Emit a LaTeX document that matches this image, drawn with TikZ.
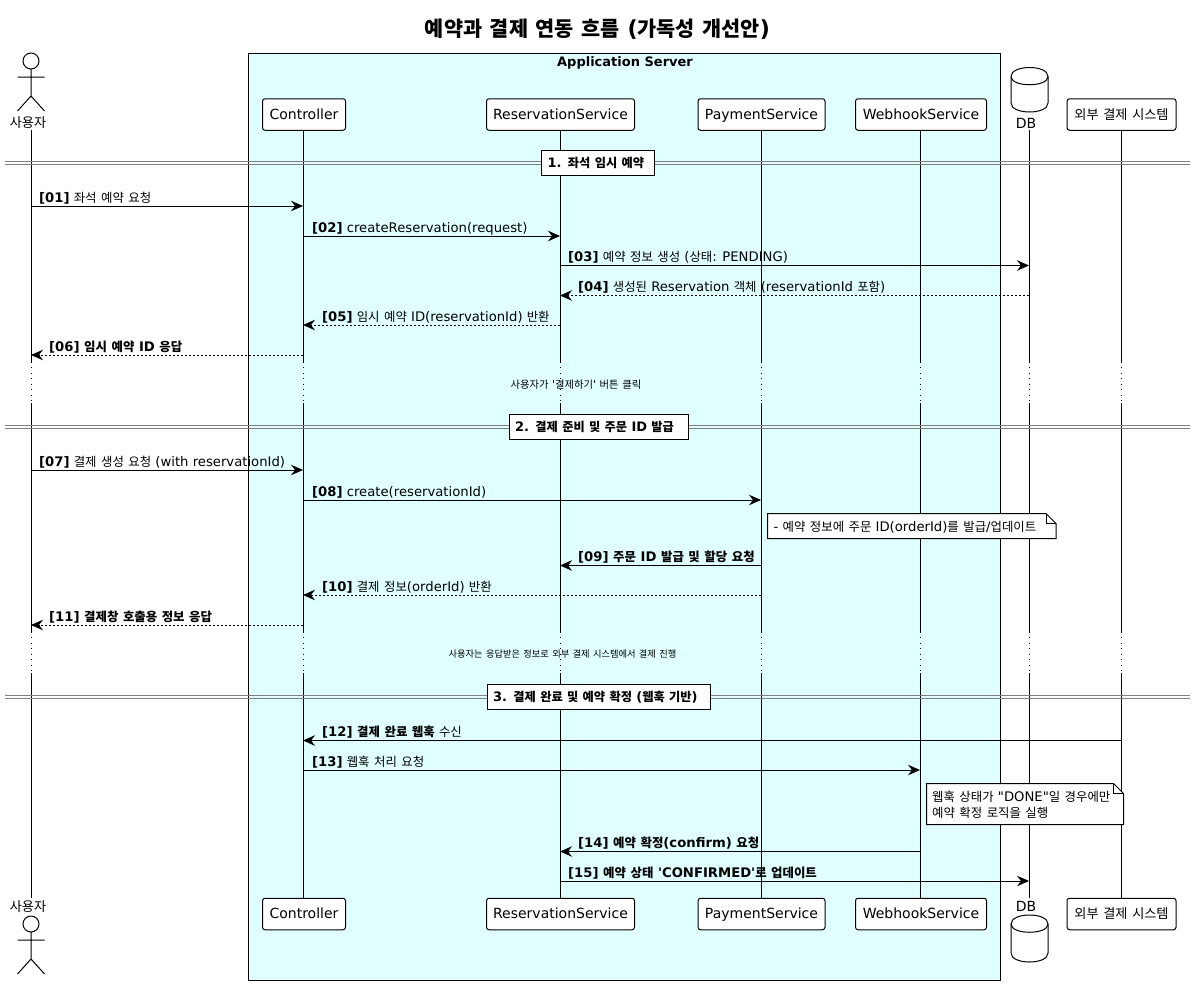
\documentclass[tikz,border=0pt]{standalone}
\usepackage{fontspec}
\setmainfont[Ligatures=TeXOff]{DejaVu Sans}
\newfontfamily\cjk[Scale=0.94,WordSpace=1.6]{Noto Sans CJK KR}
\usetikzlibrary{arrows.meta,shapes.geometric}
\newcommand\K[1]{{\cjk #1}}
\newcommand\fs[1]{\fontsize{#1}{#1}\selectfont}
\definecolor{boxcyan}{HTML}{E0FFFF}
\definecolor{divgray}{HTML}{808080}
\tikzset{
  part/.style={draw=black,fill=white,rounded corners=2.5pt,line width=1pt,inner sep=0pt,minimum height=31.5pt,text height=12.5pt,text depth=3pt,font=\fs{14}},
  life/.style={line width=1pt,black},
  dot/.style={line width=1pt,dash pattern=on 1pt off 4.5pt},
  divline/.style={line width=1pt,divgray},
  sect/.style={draw=black,fill=white,line width=1pt,inner ysep=0pt,inner xsep=6pt,minimum height=25pt,text height=12.5pt,text depth=3pt,align=left,font=\fs{13}\bfseries},
  lab/.style={anchor=base west,inner sep=0pt,font=\fs{13.2}},
  call/.style={line width=1pt,-{Stealth[length=12pt,width=10.5pt,inset=4pt]}},
  ret/.style={call,dash pattern=on 2pt off 2pt},
  skin/.style={line width=1pt,black},
  notebox/.style={draw=black,fill=white,line width=1pt},
  free/.style={inner sep=0pt,font=\fs{14}},
  delaytxt/.style={inner sep=0pt,font=\fs{11}},
}
% \msg{name}{y}{from}{to}{style}{label x}{text}
\newcommand\msg[7]{%
  \coordinate (y#1) at (0,#2);
  \draw[#5] (#3 |- y#1) -- (#4 |- y#1);
  \node[lab] (t#1) at (#6,#2-4) {#7};
}
\newcommand\actorfig[2]{% centre x, head centre y
  \draw[skin] (#1,#2) circle (8);
  \draw[skin] (#1,#2+8) -- (#1,#2+35) (#1-13.5,#2+16) -- (#1+13.5,#2+16)
    (#1-13.5,#2+50) -- (#1,#2+35) -- (#1+13.5,#2+50);
}
\newcommand\cyl[3]{% centre x, top y, bottom y
  \draw[skin,fill=white,rounded corners=0pt] (#1-18.5,#2+9)
    .. controls (#1-18.5,#2-3) and (#1+18.5,#2-3) .. (#1+18.5,#2+9)
    -- (#1+18.5,#3-9)
    .. controls (#1+18.5,#3+3) and (#1-18.5,#3+3) .. (#1-18.5,#3-9) -- cycle;
  \draw[skin] (#1-18.5,#2+9) .. controls (#1-18.5,#2+20) and (#1+18.5,#2+20) .. (#1+18.5,#2+9);
}
\begin{document}
\begin{tikzpicture}[x=1pt,y=-1pt]
\useasboundingbox (0,0) rectangle (1197,985);
\fill[white] (0,0) rectangle (1197,985);

\node[inner sep=0pt,font=\fs{22.1}\bfseries] (title) at (597.5,29) {\K{예약과 결제 연동 흐름} (\K{가독성 개선안})};

% application box
\node[draw=black,fill=boxcyan,line width=1pt,inner sep=0pt,minimum width=752pt,minimum height=927pt,anchor=north west] (appbox) at (248.3,53.3) {};
\node[inner sep=0pt,font=\fs{13}\bfseries] (apptitle) at (625,62.5) {Application Server};

% lifeline x anchors
\coordinate (U) at (31,0);
\coordinate (C) at (303,0);
\coordinate (R) at (560,0);
\coordinate (P) at (761,0);
\coordinate (W) at (920,0);
\coordinate (D) at (1029,0);
\coordinate (E) at (1121,0);
\coordinate (lt) at (0,130);
\coordinate (a1) at (0,363);
\coordinate (a2) at (0,403);
\coordinate (b1) at (0,633);
\coordinate (b2) at (0,673);
\coordinate (lb) at (0,898);
\foreach \n in {U,C,R,P,W,D,E}{
  \draw[life] (\n |- lt) -- (\n |- a1);
  \draw[dot] (\n |- a1) ++(0,4) -- (\n |- a2);
  \draw[life] (\n |- a2) -- (\n |- b1);
  \draw[dot] (\n |- b1) ++(0,4) -- (\n |- b2);
  \draw[life] (\n |- b2) -- (\n |- lb);
}

% participants, top
\node[part,minimum width=83pt] (ct) at (304,114.5) {Controller};
\node[part,minimum width=148pt] (rt) at (560.5,114.5) {ReservationService};
\node[part,minimum width=127pt] (pt) at (761.5,114.5) {PaymentService};
\node[part,minimum width=131pt] (wt) at (921,114.5) {WebhookService};
\node[part,minimum width=109pt] (et) at (1121.5,114.5) {\K{외부 결제 시스템}};
% participants, bottom
\node[part,minimum width=83pt] (cb) at (304,914) {Controller};
\node[part,minimum width=148pt] (rb) at (560.5,914) {ReservationService};
\node[part,minimum width=127pt] (pb) at (761.5,914) {PaymentService};
\node[part,minimum width=131pt] (wb) at (921,914) {WebhookService};
\node[part,minimum width=109pt] (eb) at (1121.5,914) {\K{외부 결제 시스템}};

% actors
\actorfig{31}{61}
\node[free] (ut) at (28,123) {\K{사용자}};
\node[free] (ub) at (28,907) {\K{사용자}};
\actorfig{31}{924}

% databases
\cyl{1029.5}{67.5}{112}
\node[free] (dt) at (1026,123) {DB};
\node[free] (db) at (1026,906.5) {DB};
\cyl{1029.5}{915}{962}

% dividers
\foreach \yy in {161.5,164.5,425.5,428.5,695,698}{
  \coordinate (dv) at (0,\yy);
  \coordinate (dl) at (5,0);
  \coordinate (dr) at (1190,0);
  \draw[divline] (dl |- dv) -- (dr |- dv);
}
\node[sect,text width=101pt] (s1) at (598,162.5) {1. \K{좌석 임시 예약}};
\node[sect,text width=167pt] (s2) at (598.5,426.5) {2. \K{결제 준비 및 주문} ID \K{발급}};
\node[sect,text width=211pt] (s3) at (598.5,696.5) {3. \K{결제 완료 및 예약 확정} (\K{웹훅 기반})};

% delays
\node[delaytxt] (d1) at (576,385) {\K{사용자가} '\K{결제하기}' \K{버튼 클릭}};
\node[delaytxt,font=\fs{9.85}] (d2) at (562.5,654) {\K{사용자는 응답받은 정보로 외부 결제 시스템에서 결제 진행}};

% messages
\msg{01}{206}{U}{C}{call}{39}{\textbf{[01]} \K{좌석 예약 요청}}
\msg{02}{236}{C}{R}{call}{312}{\textbf{[02]} createReservation(request)}
\msg{03}{265.5}{R}{D}{call}{568}{\textbf{[03]} \K{예약 정보 생성} (\K{상태}: PENDING)}
\msg{04}{295.5}{D}{R}{ret}{578}{\textbf{[04]} \K{생성된} Reservation \K{객체} (reservationId \K{포함})}
\msg{05}{325}{R}{C}{ret}{322}{\textbf{[05]} \K{임시 예약} ID(reservationId) \K{반환}}
\msg{06}{355}{C}{U}{ret}{49}{\textbf{[06] \K{임시 예약} ID \K{응답}}}
\msg{07}{470}{U}{C}{call}{39}{\textbf{[07]} \K{결제 생성 요청} (with reservationId)}
\msg{08}{500}{C}{P}{call}{312}{\textbf{[08]} create(reservationId)}
\msg{09}{565.5}{P}{R}{call}{578}{\textbf{[09] \K{주문} ID \K{발급 및 할당 요청}}}
\msg{10}{595}{P}{C}{ret}{322}{\textbf{[10]} \K{결제 정보}(orderId) \K{반환}}
\msg{11}{625}{C}{U}{ret}{49}{\textbf{[11] \K{결제창 호출용 정보 응답}}}
\msg{12}{740.5}{E}{C}{call}{322}{\textbf{[12] \K{결제 완료 웹훅}} \K{수신}}
\msg{13}{770}{C}{W}{call}{312}{\textbf{[13]} \K{웹훅 처리 요청}}
\msg{14}{851.5}{W}{R}{call}{578}{\textbf{[14] \K{예약 확정}(confirm) \K{요청}}}
\msg{15}{881}{R}{D}{call}{568}{\textbf{[15] \K{예약 상태} 'CONFIRMED'\K{로 업데이트}}}

% notes
\draw[notebox] (767.5,513.5) -- (1046,513.5) -- (1056,523.5) -- (1056,538.5) -- (767.5,538.5) -- cycle;
\draw[line width=1pt] (1046,513.5) -- (1046,523.5) -- (1056,523.5);
\node[lab] (n1) at (773.5,531) {- \K{예약 정보에 주문} ID(orderId)\K{를 발급}/\K{업데이트}};
\draw[notebox] (926.5,783.5) -- (1113.5,783.5) -- (1123.5,793.5) -- (1123.5,824.5) -- (926.5,824.5) -- cycle;
\draw[line width=1pt] (1113.5,783.5) -- (1113.5,793.5) -- (1123.5,793.5);
\node[lab] (n2a) at (932,801) {\K{웹훅 상태가} "DONE"\K{일 경우에만}};
\node[lab] (n2b) at (932,817) {\K{예약 확정 로직을 실행}};
\end{tikzpicture}
\end{document}
